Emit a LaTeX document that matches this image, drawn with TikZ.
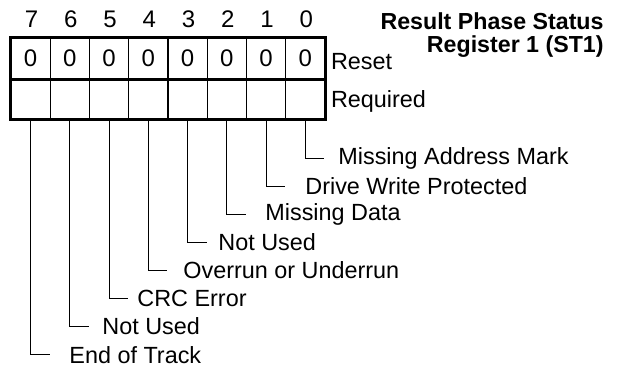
\documentclass[tikz,border=0pt]{standalone}
\usepackage{fontspec}
\setmainfont{Liberation Sans}
\usetikzlibrary{positioning}

\begin{document}
\begin{tikzpicture}[x=0.5pt, y=-0.5pt,
    cell/.style={draw, line width=0.65pt, minimum width=19.625pt, minimum height=20pt, inner sep=0pt, font=\fontsize{12}{13}\selectfont},
    bitnum/.style={inner sep=0pt, font=\fontsize{12}{13}\selectfont},
    lbl/.style={anchor=west, inner sep=0pt, font=\fontsize{11.7}{13}\selectfont},
    frame/.style={line width=1.5pt},
    lead/.style={line width=0.5pt}]

    \useasboundingbox (0,0) rectangle (618,371);

    % register cells, bit 7 on the left
    \foreach \b in {0,...,7} {
        \node[cell] (s\b) at ({30.625+39.25*(7-\b)}, 58.5) {0};
        \node[cell] (q\b) at ({30.625+39.25*(7-\b)}, 98.5) {};
        \node[bitnum] (n\b) at ({31.5+39.25*(7-\b)}, 19) {\b};
    }
    \draw[frame] (s7.north west) rectangle (q0.south east);
    \draw[frame] (s7.south west) -- (s0.south east);

    \node[lbl, right=2.5pt of s0, yshift=-1.5pt] (reset) {Reset};
    \node[lbl, right=2.5pt of q0, yshift=-1.5pt] (req) {Required};

    \node[align=right, anchor=east, inner sep=0pt, font=\bfseries\fontsize{11.6}{11.8}\selectfont] (title) at (604,35) {Result Phase Status\\Register 1 (ST1)};

    % bit descriptions
    \foreach \b/\tx/\txt in {0/338/Missing Address Mark, 1/305/Drive Write Protected,
        2/265/Missing Data, 3/218/Not Used, 4/183/Overrun or Underrun,
        5/137/CRC Error, 6/102/Not Used, 7/69/End of Track} {
        \coordinate (e\b) at ({49.625+39.25*(7-\b)}, {158+28.1*\b});
        \node[lbl] (t\b) at (\tx, {158+28.1*\b}) {\txt};
        \draw[lead] (q\b.south) |- (e\b);
    }
\end{tikzpicture}
\end{document}
